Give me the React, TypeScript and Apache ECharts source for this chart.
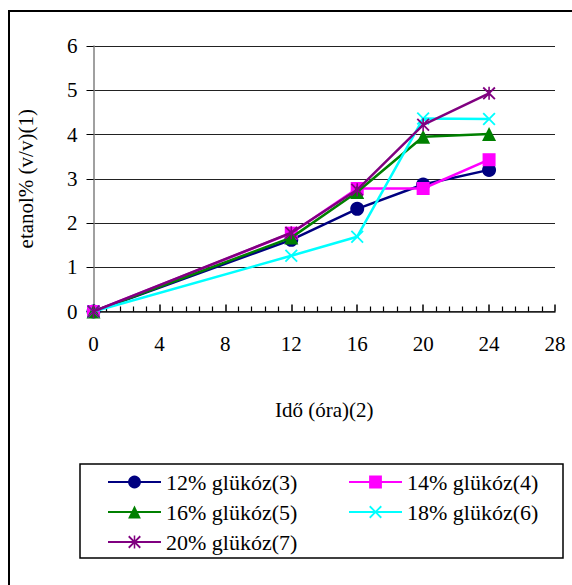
import React, { useEffect, useRef } from "react";
import * as echarts from "echarts";

const hours = [0, 12, 16, 20, 24];
const g12 = [0, 1.62, 2.32, 2.87, 3.2];
const g14 = [0, 1.77, 2.78, 2.78, 3.43];
const g16 = [0, 1.67, 2.7, 3.95, 4.01];
const g18 = [0, 1.26, 1.69, 4.36, 4.35];
const g20 = [0, 1.78, 2.75, 4.22, 4.93];
const names = ["12% glükóz(3)", "14% glükóz(4)", "16% glükóz(5)", "18% glükóz(6)", "20% glükóz(7)"];
const colors = ["#000080", "#FF00FF", "#008000", "#00FFFF", "#800080"];
const xTicks = [0, 4, 8, 12, 16, 20, 24, 28];
const yTicks = [0, 1, 2, 3, 4, 5, 6];

const X_PATH = "path://M0,2 L2,0 L10,8 L18,0 L20,2 L12,10 L20,18 L18,20 L10,12 L2,20 L0,18 L8,10 Z";
const STAR_PATH =
  "path://M0,2 L2,0 L10,8 L18,0 L20,2 L12,10 L20,18 L18,20 L10,12 L2,20 L0,18 L8,10 Z M8.8,0 L11.2,0 L11.2,20 L8.8,20 Z";

const FONT = "'Liberation Serif', 'Times New Roman', serif";

export default function App() {
  const ref = useRef<HTMLDivElement>(null);
  useEffect(() => {
    if (!ref.current) return;
    const chart = echarts.init(ref.current, undefined, { renderer: "svg" });
    const seriesData = [g12, g14, g16, g18, g20];
    const symbols = ["circle", "rect", "triangle", X_PATH, STAR_PATH];
    const sizes = [14, 13, 14, 13, 13];
    const series = seriesData.map((vals, i) => ({
      name: names[i],
      type: "line",
      data: hours.map((h, j) => [h, vals[j]]),
      symbol: symbols[i],
      symbolSize: sizes[i],
      showAllSymbol: true,
      lineStyle: { color: colors[i], width: 2.5 },
      itemStyle: { color: colors[i] },
      z: 2 + i,
    }));
    const legendPos = [
      [107, 471],
      [348, 471],
      [107, 501],
      [348, 501],
      [107, 531],
    ];
    const legends = names.map((n, i) => ({
      data: [n],
      left: legendPos[i][0],
      top: legendPos[i][1],
      itemWidth: 53,
      itemHeight: 16,
      itemGap: 6,
      padding: 0,
      selectedMode: false,
      textStyle: { fontFamily: FONT, fontSize: 22, color: "#000", padding: [0, 0, 0, 0] },
    }));
    chart.setOption({
      animation: false,
      backgroundColor: "#fff",
      grid: { left: 93.5, right: 17, top: 46, bottom: 273.5, containLabel: false },
      xAxis: {
        type: "value",
        min: 0,
        max: 28,
        interval: 4,
        name: "Idő (óra)(2)",
        nameLocation: "middle",
        nameGap: 88,
        nameTextStyle: { fontFamily: FONT, fontSize: 21, color: "#000" },
        axisLine: { show: true, onZero: false, lineStyle: { color: "#222", width: 1.5 } },
        axisTick: { show: true, inside: true, length: 7, lineStyle: { color: "#000", width: 1.5 } },
        minorTick: { show: true, splitNumber: 5, length: 5, lineStyle: { color: "#000", width: 1.2 } },
        axisLabel: {
          fontFamily: FONT,
          fontSize: 21,
          color: "#000",
          margin: 22,
          formatter: (v: number) => (xTicks.includes(v) ? String(v) : ""),
        },
        splitLine: { show: false },
      },
      yAxis: {
        type: "value",
        min: 0,
        max: 6,
        interval: 1,
        name: "etanol% (v/v)(1)",
        nameLocation: "middle",
        nameGap: 57,
        nameTextStyle: { fontFamily: FONT, fontSize: 21, color: "#000" },
        axisLine: { show: true, lineStyle: { color: "#808080", width: 1.5 } },
        axisTick: { show: true, inside: false, length: 7, lineStyle: { color: "#000", width: 1 } },
        axisLabel: {
          fontFamily: FONT,
          fontSize: 21,
          color: "#000",
          margin: 16,
          formatter: (v: number) => (yTicks.includes(v) ? String(v) : ""),
        },
        splitLine: { show: true, lineStyle: { color: "#222", width: 1.2 } },
      },
      legend: legends,
      series,
      graphic: [
        {
          type: "rect",
          shape: { x: 9, y: 11, width: 620, height: 620 },
          style: { fill: "none", stroke: "#000", lineWidth: 2 },
          z: -1,
          silent: true,
        },
        {
          type: "rect",
          shape: { x: 80, y: 464, width: 483, height: 94 },
          style: { fill: "none", stroke: "#000", lineWidth: 1.5 },
          silent: true,
        },
      ],
    });
    return () => chart.dispose();
  }, []);
  return <div ref={ref} style={{ position: "absolute", left: 0, top: 0, width: 572, height: 585 }} />;
}
